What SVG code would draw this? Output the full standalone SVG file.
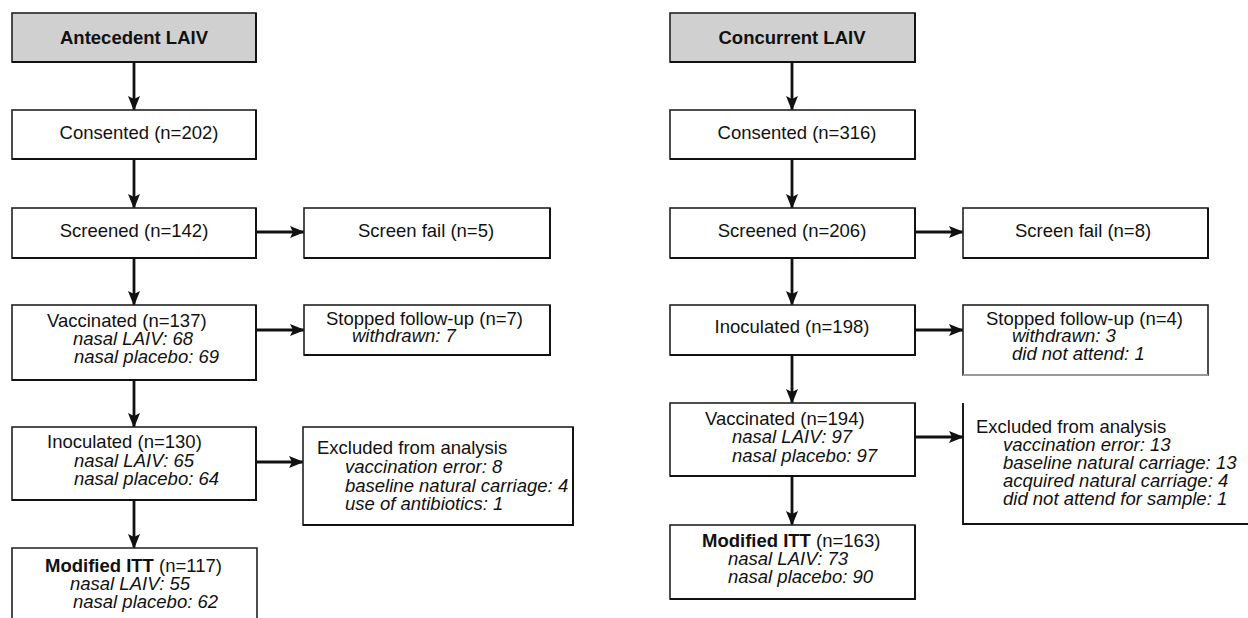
<svg xmlns="http://www.w3.org/2000/svg" width="1248" height="618" viewBox="0 0 1248 618">
  <defs>
    <marker id="arrow" markerWidth="15" markerHeight="13" refX="14" refY="6.5" orient="auto" markerUnits="userSpaceOnUse">
      <path d="M0,0.5 L15,6.5 L0,12.5 L3,6.5 Z" fill="#111"/>
    </marker>
    <style>
      .box { fill: #fff; stroke: #222; stroke-width: 1.6; }
      .head { fill: #d0d0d0; stroke: #222; stroke-width: 1.6; }
      .edge { fill: none; stroke: #222; stroke-width: 1.6; }
      .shadow { fill: none; stroke: #111; stroke-width: 1.9; }
      .conn { fill: none; stroke: #111; stroke-width: 2.8; marker-end: url(#arrow); }
      text { font-family: "Liberation Sans", Arial, Helvetica, sans-serif; font-size: 18.5px; fill: #111; }
      .b { font-weight: bold; }
      .i { font-style: italic; }
      .c { text-anchor: middle; }
    </style>
  </defs>

  <!-- Connectors -->
  <g id="connectors">
    <!-- antecedent arm -->
    <line class="conn" x1="134" y1="62" x2="134" y2="110"/>
    <line class="conn" x1="134" y1="159" x2="134" y2="208"/>
    <line class="conn" x1="134" y1="258" x2="134" y2="305"/>
    <line class="conn" x1="134" y1="380" x2="134" y2="427"/>
    <line class="conn" x1="134" y1="500" x2="134" y2="548"/>
    <line class="conn" x1="257" y1="232" x2="304" y2="232"/>
    <line class="conn" x1="257" y1="330" x2="304" y2="330"/>
    <line class="conn" x1="257" y1="462" x2="303" y2="462"/>
    <!-- concurrent arm -->
    <line class="conn" x1="792" y1="62" x2="792" y2="110"/>
    <line class="conn" x1="792" y1="159" x2="792" y2="208"/>
    <line class="conn" x1="792" y1="258" x2="792" y2="305"/>
    <line class="conn" x1="792" y1="355" x2="792" y2="403"/>
    <line class="conn" x1="792" y1="476" x2="792" y2="525"/>
    <line class="conn" x1="915" y1="232" x2="963" y2="232"/>
    <line class="conn" x1="915" y1="330" x2="963" y2="330"/>
    <line class="conn" x1="915" y1="437" x2="963" y2="437"/>
  </g>

  <!-- Antecedent LAIV arm -->
  <g id="a-head">
    <rect class="head" x="12" y="13" width="244" height="49"/>
    <polyline class="shadow" points="12,62 256,62 256,13"/>
    <text class="b c" x="134" y="44">Antecedent LAIV</text>
  </g>
  <g id="a-consented">
    <rect class="box" x="12" y="110" width="244" height="49"/>
    <polyline class="shadow" points="12,159 256,159 256,110"/>
    <text class="c" x="139" y="139">Consented (n=202)</text>
  </g>
  <g id="a-screened">
    <rect class="box" x="12" y="208" width="244" height="50"/>
    <polyline class="shadow" points="12,258 256,258 256,208"/>
    <text class="c" x="134" y="237">Screened (n=142)</text>
  </g>
  <g id="a-screenfail">
    <rect class="box" x="304" y="208" width="246" height="50"/>
    <polyline class="shadow" points="304,258 550,258 550,208"/>
    <text class="c" x="426" y="237">Screen fail (n=5)</text>
  </g>
  <g id="a-vaccinated">
    <rect class="box" x="12" y="305" width="244" height="75"/>
    <polyline class="shadow" points="12,380 256,380 256,305"/>
    <text x="47" y="327">Vaccinated (n=137)</text>
    <text class="i" x="73" y="345">nasal LAIV: 68</text>
    <text class="i" x="74" y="363">nasal placebo: 69</text>
  </g>
  <g id="a-stopped">
    <rect class="box" x="304" y="305" width="246" height="50"/>
    <polyline class="shadow" points="304,355 550,355 550,305"/>
    <text x="326" y="325">Stopped follow-up (n=7)</text>
    <text class="i" x="352" y="342">withdrawn: 7</text>
  </g>
  <g id="a-inoculated">
    <rect class="box" x="12" y="427" width="244" height="73"/>
    <polyline class="shadow" points="12,500 256,500 256,427"/>
    <text x="47" y="448">Inoculated (n=130)</text>
    <text class="i" x="74" y="467">nasal LAIV: 65</text>
    <text class="i" x="74" y="485">nasal placebo: 64</text>
  </g>
  <g id="a-excluded">
    <rect class="box" x="303" y="427" width="270" height="98"/>
    <polyline class="shadow" points="303,525 573,525 573,427"/>
    <text x="317" y="454">Excluded from analysis</text>
    <text class="i" x="345" y="473">vaccination error: 8</text>
    <text class="i" x="345" y="492">baseline natural carriage: 4</text>
    <text class="i" x="345" y="510">use of antibiotics: 1</text>
  </g>
  <g id="a-mitt">
    <rect x="12" y="548" width="245" height="80" fill="#fff"/>
    <polyline class="edge" points="12,618 12,548 257,548 257,618"/>
    <text x="45" y="572"><tspan class="b">Modified ITT</tspan> (n=117)</text>
    <text class="i" x="70" y="590">nasal LAIV: 55</text>
    <text class="i" x="73" y="608">nasal placebo: 62</text>
  </g>

  <!-- Concurrent LAIV arm -->
  <g id="c-head">
    <rect class="head" x="670" y="13" width="245" height="49"/>
    <polyline class="shadow" points="670,62 915,62 915,13"/>
    <text class="b c" x="792" y="44">Concurrent LAIV</text>
  </g>
  <g id="c-consented">
    <rect class="box" x="670" y="110" width="245" height="49"/>
    <polyline class="shadow" points="670,159 915,159 915,110"/>
    <text class="c" x="797" y="139">Consented (n=316)</text>
  </g>
  <g id="c-screened">
    <rect class="box" x="670" y="208" width="245" height="50"/>
    <polyline class="shadow" points="670,258 915,258 915,208"/>
    <text class="c" x="792" y="237">Screened (n=206)</text>
  </g>
  <g id="c-screenfail">
    <rect class="box" x="963" y="208" width="245" height="50"/>
    <polyline class="shadow" points="963,258 1208,258 1208,208"/>
    <text class="c" x="1083" y="237">Screen fail (n=8)</text>
  </g>
  <g id="c-inoculated">
    <rect class="box" x="670" y="305" width="245" height="50"/>
    <polyline class="shadow" points="670,355 915,355 915,305"/>
    <text class="c" x="792" y="333">Inoculated (n=198)</text>
  </g>
  <g id="c-stopped">
    <rect class="box" x="963" y="305" width="245" height="70"/>
    <line x1="963" y1="375" x2="1208" y2="375" stroke="#999" stroke-width="2"/>
    <text x="986" y="325">Stopped follow-up (n=4)</text>
    <text class="i" x="1012" y="342">withdrawn: 3</text>
    <text class="i" x="1012" y="360">did not attend: 1</text>
  </g>
  <g id="c-vaccinated">
    <rect class="box" x="670" y="403" width="245" height="73"/>
    <polyline class="shadow" points="670,476 915,476 915,403"/>
    <text x="705" y="425">Vaccinated (n=194)</text>
    <text class="i" x="732" y="443">nasal LAIV: 97</text>
    <text class="i" x="732" y="462">nasal placebo: 97</text>
  </g>
  <g id="c-excluded">
    <polyline class="shadow" points="963,403 963,524 1248,524"/>
    <text x="976" y="433">Excluded from analysis</text>
    <text class="i" x="1003" y="451">vaccination error: 13</text>
    <text class="i" x="1003" y="469">baseline natural carriage: 13</text>
    <text class="i" x="1003" y="487">acquired natural carriage: 4</text>
    <text class="i" x="1003" y="505">did not attend for sample: 1</text>
  </g>
  <g id="c-mitt">
    <rect class="box" x="670" y="525" width="245" height="74"/>
    <polyline class="shadow" points="670,599 915,599 915,525"/>
    <text x="702" y="547"><tspan class="b">Modified ITT</tspan> (n=163)</text>
    <text class="i" x="728" y="565">nasal LAIV: 73</text>
    <text class="i" x="728" y="583">nasal placebo: 90</text>
  </g>
</svg>
